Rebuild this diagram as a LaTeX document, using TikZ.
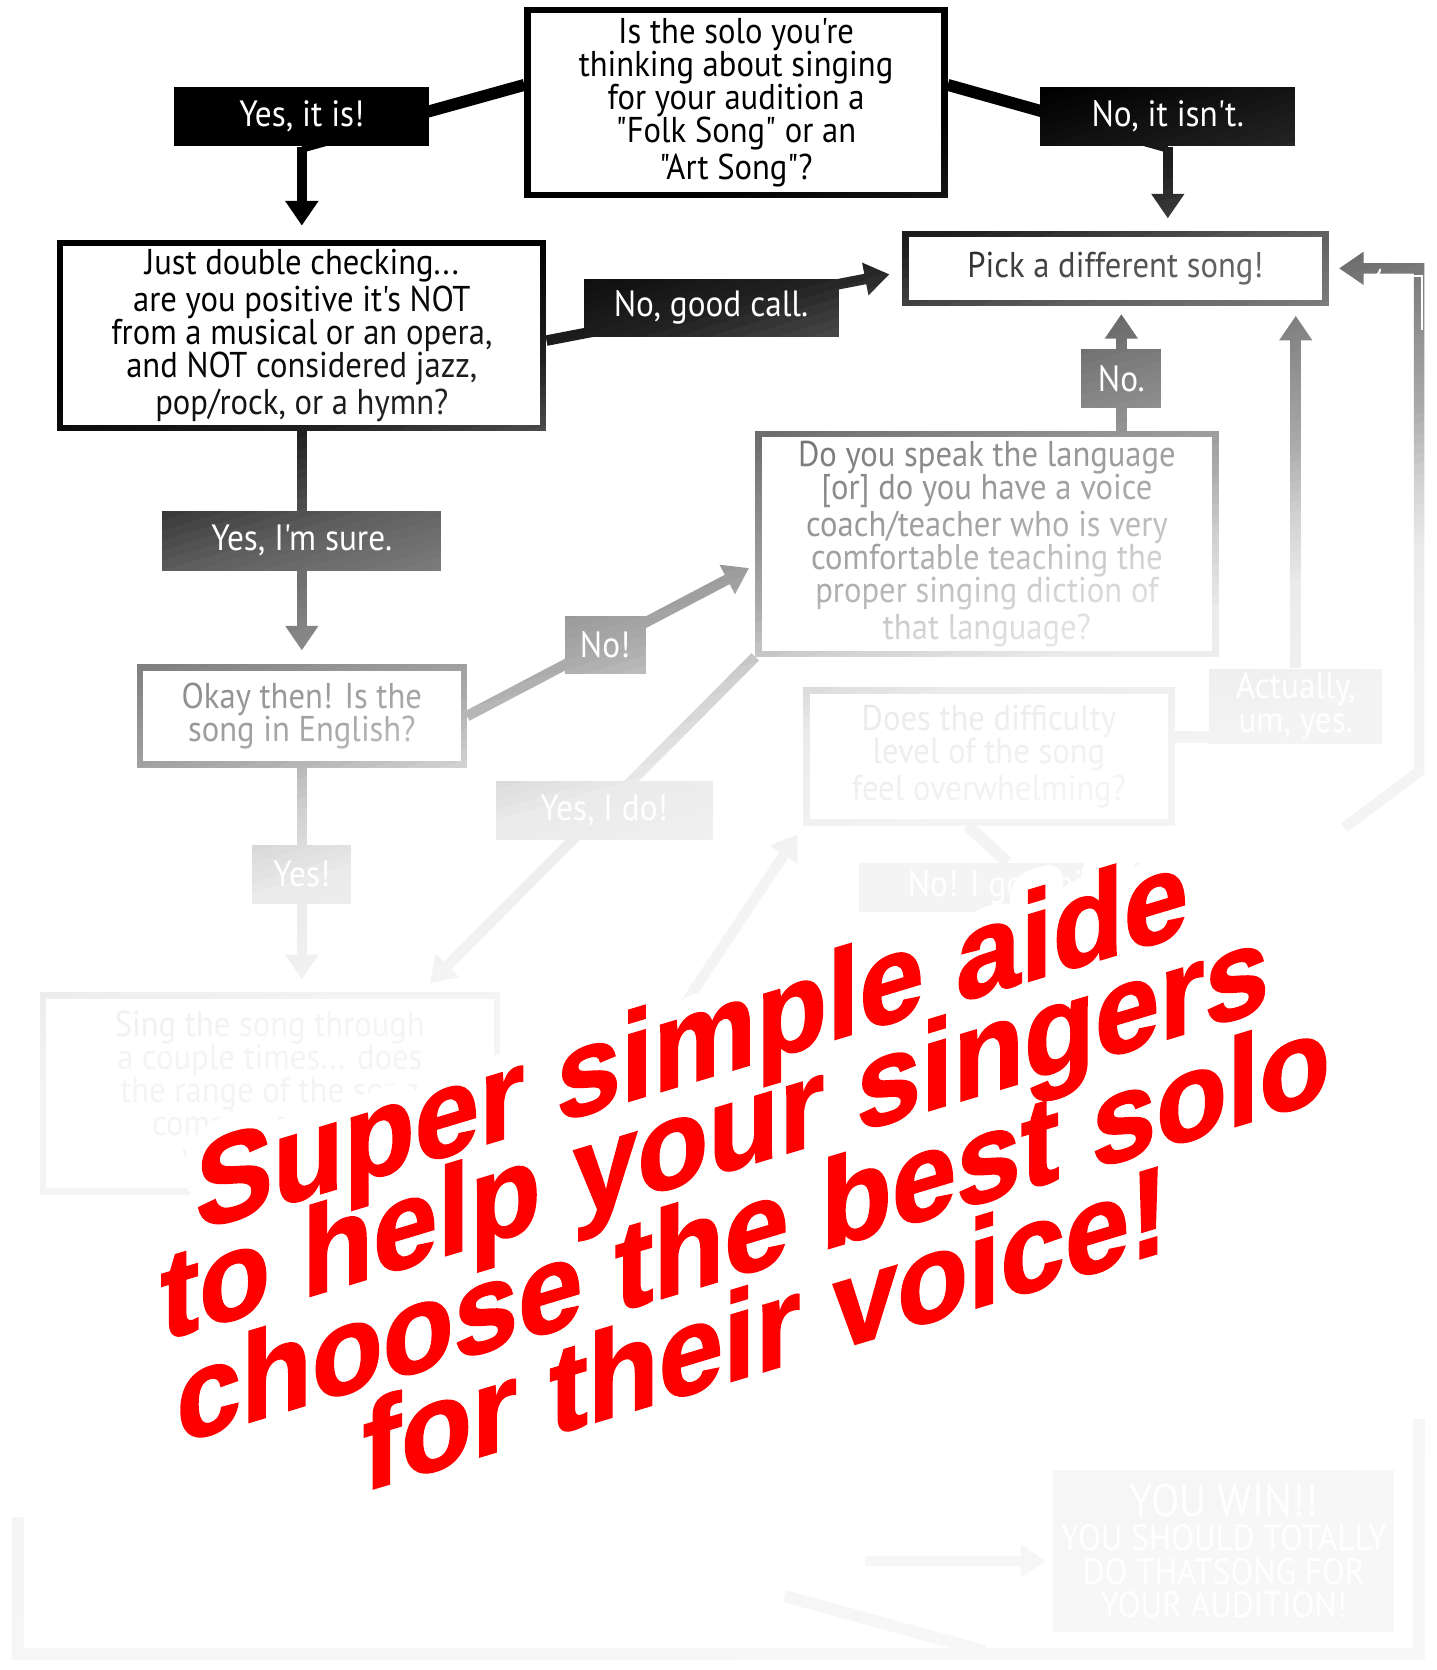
\documentclass[tikz,border=0pt]{standalone}
\usepackage{fontspec}
\usepackage{contour}
\usetikzlibrary{arrows.meta,backgrounds,fadings}

\newfontfamily\flowfont[FakeStretch=0.91]{PT Sans}
\newfontfamily\sloganfont[FakeBold=1.5]{Liberation Sans Bold}
\contourlength{5pt}
\contournumber{32}

% white veil: opacity along t = y + 0.3x
\newcommand\fadeval[2]{%
  \pgfmathsetmacro#1{(#2<400)?0:((#2<520)?(0.13*(#2-400)/120):((#2<620)?(0.13+0.24*(#2-520)/100):((#2<720)?(0.37+0.15*(#2-620)/100):((#2<830)?(0.52+0.15*(#2-720)/110):((#2<900)?(0.67+0.15*(#2-830)/70):((#2<970)?(0.82+0.10*(#2-900)/70):((#2<1100)?(0.92+0.035*(#2-970)/130):min(0.97,0.955+0.015*(#2-1100)/1000))))))))}}

\tikzset{
  qbox/.style={draw, line width=1.8pt, fill=white, align=center, inner sep=0pt,
    font=\flowfont\fontsize{10.2}{9.4}\selectfont},
  ans/.style={fill=black, text=white, align=center, inner sep=0pt,
    font=\flowfont\fontsize{10.4}{9.6}\selectfont},
  conn/.style={line width=3.4pt},
  arr/.style={line width=3pt, -{Triangle[width=9pt,length=7pt,fill=black]}, shorten >=4pt},
  redline/.style={yslant=0.30, yscale=1.08, anchor=base west, inner sep=0pt, text=red,
    font=\sloganfont\fontsize{33}{33}\selectfont},
}

\begin{document}
\begin{tikzpicture}[x=0.01cm, y=-0.01cm]
    % fading mask, declared before any layer is filled
    \pgfdeclarefading{veil}{%
      \pgfpicture
        \pgfpathrectangle{\pgfpointorigin}{\pgfpoint{14.37cm}{-16.7cm}}%
        \pgfsetfillcolor{black}\pgfusepath{fill}%
        \pgfinterruptboundingbox
        \begin{pgfscope}
        \pgfpathrectangle{\pgfpointorigin}{\pgfpoint{14.37cm}{-16.7cm}}\pgfusepath{clip}%
        \foreach \t in {400,410,...,2100}{%
          \fadeval\fnow{\t}%
          \pgfmathsetmacro\fpc{100*\fnow}%
          \pgfsetfillcolor{white!\fpc!black}%
          \pgfpathmoveto{\pgfpoint{-0.1cm}{-0.01cm*(\t+3)}}%
          \pgfpathlineto{\pgfpoint{14.5cm}{-0.01cm*(\t-435)}}%
          \pgfpathlineto{\pgfpoint{14.5cm}{-17cm}}%
          \pgfpathlineto{\pgfpoint{-0.1cm}{-17cm}}%
          \pgfpathclose\pgfusepath{fill}%
        }%
        \end{pgfscope}
        \endpgfinterruptboundingbox
        \pgfsetfillcolor{black}%
      \endpgfpicture}
    \pgfsetfillcolor{black}
    \useasboundingbox (0,0) rectangle (1437,1670);
    % questions
    \node[qbox, minimum width=4.17cm, minimum height=1.85cm] (folk) at (736.5,102.5) {Is the solo you're\\thinking about singing\\for your audition a\\"Folk Song" or an\\"Art Song"?};
    \node[qbox, minimum width=4.83cm, minimum height=1.85cm] (musical) at (302,335.5) {Just double checking...\\are you positive it's NOT\\from a musical or an opera,\\and NOT considered jazz,\\pop/rock, or a hymn?};
    \node[qbox, minimum width=4.20cm, minimum height=0.69cm] (pick) at (1116,268.5) {Pick a different song!};
    \node[qbox, minimum width=3.24cm, minimum height=0.97cm] (english) at (302,716.5) {Okay then! Is the\\song in English?};
    \node[qbox, minimum width=4.57cm, minimum height=2.20cm] (diction) at (987.5,544) {Do you speak the language\\{[or]} do you have a voice\\coach/teacher who is very\\comfortable teaching the\\proper singing diction of\\that language?};
    \node[qbox, minimum width=3.65cm, minimum height=1.32cm] (difficulty) at (989.5,757) {Does the difficulty\\level of the song\\feel overwhelming?};
    \node[qbox, minimum width=4.54cm, minimum height=1.96cm] (range) at (270,1094) {Sing the song through\\a couple times... does\\the range of the song\\compliment your\\vocal range?};
    \node[ans, minimum width=3.41cm, minimum height=1.62cm] (win) at (1224.5,1552) {{\fontsize{13}{14}\selectfont YOU WIN!!}\\YOU SHOULD TOTALLY\\DO THATSONG FOR\\YOUR AUDITION!};
    % answers
    \node[ans, minimum width=2.55cm, minimum height=0.59cm] (yesfolk) at (302,116.5) {Yes, it is!};
    \node[ans, minimum width=2.55cm, minimum height=0.59cm] (nofolk) at (1168.5,116.5) {No, it isn't.};
    \node[ans, minimum width=2.55cm, minimum height=0.58cm] (nogood) at (711.5,308) {No, good call.};
    \node[ans, minimum width=2.79cm, minimum height=0.60cm] (yessure) at (302,541) {Yes, I'm sure.};
    \node[ans, minimum width=0.81cm, minimum height=0.58cm] (noeng) at (605.5,645) {No!};
    \node[ans, minimum width=0.80cm, minimum height=0.59cm] (nolang) at (1122,378.5) {No.};
    \node[ans, minimum width=1.73cm, minimum height=0.75cm] (actually) at (1296.5,706.5) {Actually,\\um, yes.};
    \node[ans, minimum width=2.17cm, minimum height=0.59cm] (yesdo) at (604.5,810.5) {Yes, I do!};
    \node[ans, minimum width=0.99cm, minimum height=0.59cm] (yesyes) at (302,874.5) {Yes!};
    \node[ans, minimum width=2.97cm, minimum height=0.49cm] (gotthis) at (1008,888) {No! I got this!};
    % loose ends
    \coordinate (rfoot) at (1345,828);
    \coordinate (rbend) at (1420,772);
    \coordinate (lfoot) at (18,1518);
    \coordinate (lcorner) at (18,1655);
    \coordinate (rcorner) at (1420,1655);
    \coordinate (rtop) at (1420,1420);
    \coordinate (winfrom) at (865,1562);
    \coordinate (slantA) at (785,1597);
    \coordinate (slantB) at (985,1652);
    \coordinate (upfrom) at (685,1005);

    \begin{pgfonlayer}{background}
    \fill[white] (0,0) rectangle (1437,1670);
    % connectors
    \draw[conn] ([yshift=5pt]folk.west) -- (yesfolk.south);
    \draw[conn] ([yshift=5pt]folk.east) -- (nofolk.south);
    \draw[arr] (yesfolk) -- (musical.north);
    \draw[arr, shorten >=3.5pt] (nofolk) -- (nofolk |- pick.north);
    \draw[arr, shorten >=3.7pt] ([yshift=-1.5pt]musical.east) -- ([yshift=-1pt]pick.west);
    \draw[arr] (musical) -- (english);
    \draw[arr, shorten >=2pt] (english.east) -- ([yshift=-6pt]diction.west);
    \draw[arr, shorten >=2.3pt] (diction.north -| nolang) -- (pick.south -| nolang);
    \draw[arr, shorten >=2.8pt] (actually) -- (actually |- pick.south);
    \draw[conn] ([yshift=5.7pt]difficulty.east) -- ++(60,0);
    \draw[arr, shorten >=3.7pt] (diction.south west) -- ([xshift=-22.5pt]range.north east);
    \draw[arr, shorten >=3.7pt] (english) -- (english |- range.north);
    \draw[conn] ([xshift=-6pt]difficulty.south) -- (gotthis.north);
    \draw[arr, shorten >=3pt] (upfrom) -- (difficulty.south west);
    \draw[arr, shorten >=3pt] (rfoot) -- (rbend) -- (rbend |- pick.east) -- (pick.east);
    \draw[white, line width=0.6pt, -{To[length=2pt]}] (1423,330) |- (1375,276);
    \draw[conn] (lfoot) -- (lcorner) -- (rcorner) -- (rtop);
    \draw[arr, shorten >=2pt] (winfrom) -- (win.west |- winfrom);
    \draw[conn] (slantA) -- (slantB);
    \end{pgfonlayer}

    % fade towards the bottom right
    \fill[white, path fading=veil, fit fading=false, fading transform={shift={(718.5,835)}}] (0,0) rectangle (1437,1670);

    % slogan
    \node[redline, text=white] (halo1) at (195,1232) {\contour{white}{Super simple aide}};
    \node[redline, text=white] (halo2) at (160,1342) {\contour{white}{to help your singers}};
    \node[redline, text=white] (halo3) at (176,1445) {\contour{white}{choose the best solo}};
    \node[redline, text=white] (halo4) at (362,1493) {\contour{white}{for their voice!}};
    \node[redline] (slogan1) at (195,1232) {Super simple aide};
    \node[redline] (slogan2) at (160,1342) {to help your singers};
    \node[redline] (slogan3) at (176,1445) {choose the best solo};
    \node[redline] (slogan4) at (362,1493) {for their voice!};
\end{tikzpicture}
\end{document}
